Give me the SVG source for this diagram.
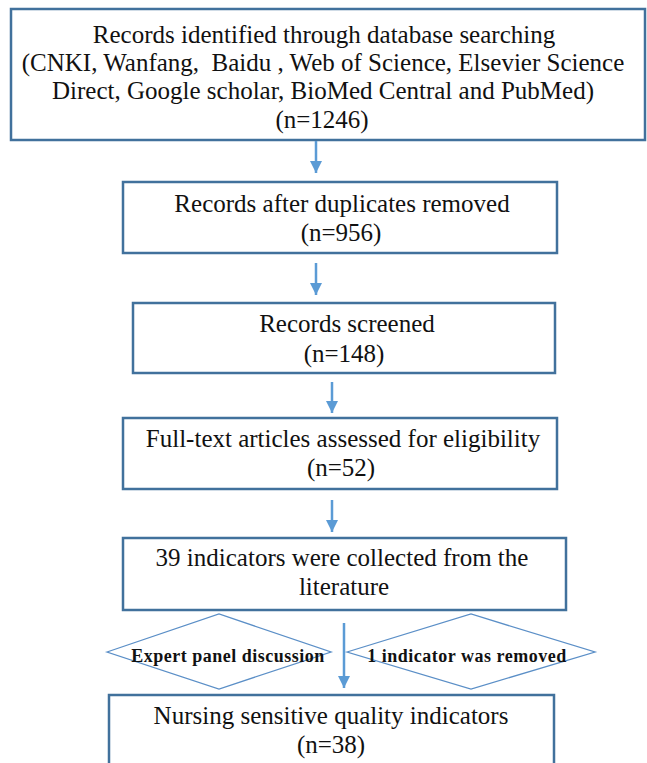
<svg xmlns="http://www.w3.org/2000/svg" width="647" height="763" viewBox="0 0 647 763">
<style>
.box{fill:#fff;stroke:#41719C;stroke-width:2.5}
.dia{fill:none;stroke:#5B8FC7;stroke-width:1.3}
.t{font-family:"Liberation Serif","Times New Roman",serif;font-size:25px;fill:#111;text-anchor:middle}
.b{font-family:"Liberation Serif","Times New Roman",serif;font-size:18px;font-weight:bold;fill:#111;text-anchor:middle;letter-spacing:0.5px}
.c{stroke:#5B9BD5;stroke-width:2.5;fill:none}
</style>
<defs>
<marker id="ah" viewBox="0 0 10 10" refX="10" refY="5" markerWidth="5" markerHeight="5" markerUnits="strokeWidth" orient="auto">
<path d="M0,0 L10,5 L0,10 z" fill="#5B9BD5"/>
</marker>
</defs>
<rect width="647" height="763" fill="#fff"/>
<g id="n1">
<rect class="box" x="11" y="9" width="634" height="131"/>
<text class="t" x="324" y="43">Records identified through database searching</text>
<text class="t" x="323" y="71" xml:space="preserve">(CNKI, Wanfang,  Baidu , Web of Science, Elsevier Science</text>
<text class="t" x="323" y="99">Direct, Google scholar, BioMed Central and PubMed)</text>
<text class="t" x="322" y="128">(n=1246)</text>
</g>
<g id="n2">
<rect class="box" x="123" y="182" width="434" height="71"/>
<text class="t" x="342" y="212">Records after duplicates removed</text>
<text class="t" x="341" y="241">(n=956)</text>
</g>
<g id="n3">
<rect class="box" x="133" y="303" width="422" height="70"/>
<text class="t" x="347" y="332">Records screened</text>
<text class="t" x="344" y="362">(n=148)</text>
</g>
<g id="n4">
<rect class="box" x="123" y="418" width="434" height="71"/>
<text class="t" x="343" y="447">Full-text articles assessed for eligibility</text>
<text class="t" x="341" y="476">(n=52)</text>
</g>
<g id="n5">
<rect class="box" x="123" y="538" width="443" height="72"/>
<text class="t" x="342" y="566">39 indicators were collected from the</text>
<text class="t" x="344" y="595">literature</text>
</g>
<g id="d1">
<polygon class="dia" points="107,652 219,614 331,652 219,689"/>
<text class="b" x="228" y="662">Expert panel discussion</text>
</g>
<g id="d2">
<polygon class="dia" points="347,652 471,614 595,652 471,689"/>
<text class="b" x="467" y="662">1 indicator was removed</text>
</g>
<g id="n6">
<rect class="box" x="109" y="695" width="445" height="80"/>
<text class="t" x="331" y="724">Nursing sensitive quality indicators</text>
<text class="t" x="331" y="753">(n=38)</text>
</g>
<g id="connectors">
<line class="c" x1="316" y1="141" x2="316" y2="173" marker-end="url(#ah)"/>
<line class="c" x1="316" y1="263" x2="316" y2="295" marker-end="url(#ah)"/>
<line class="c" x1="332" y1="382" x2="332" y2="413" marker-end="url(#ah)"/>
<line class="c" x1="332" y1="500" x2="332" y2="532" marker-end="url(#ah)"/>
<line class="c" x1="344" y1="623" x2="344" y2="688" marker-end="url(#ah)"/>
</g>
</svg>
